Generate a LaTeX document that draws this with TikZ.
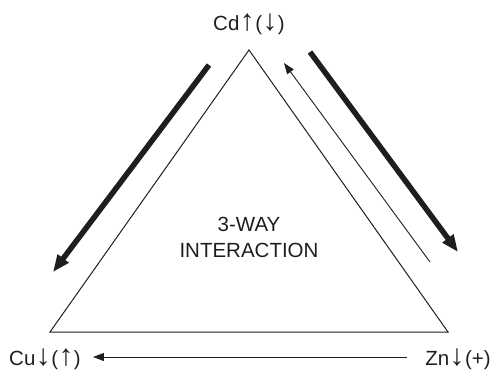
\documentclass[tikz,border=0pt]{standalone}
\usepackage{fontspec}
\setmainfont{Liberation Sans}
\newcommand{\auf}{\kern0.5pt\scalebox{1.45}{↑}\kern0.5pt}
\newcommand{\ab}{\kern0.5pt\scalebox{1.45}{↓}\kern0.5pt}
\usetikzlibrary{arrows.meta}
\definecolor{strich}{RGB}{30,30,30}

\begin{document}
\begin{tikzpicture}[strich, x=1pt, y=-1pt,
	every node/.style={font=\fontsize{20.5}{26}\selectfont, inner sep=0pt},
	dick/.style={line width=5.5pt, -{Triangle[length=17pt, width=13pt]}},
	duenn/.style={line width=0.9pt, -{Triangle[length=11pt, width=8pt]}}]

	\useasboundingbox (0,0) rectangle (495,370);

	% Ecken
	\coordinate (A) at (249,50);
	\coordinate (B) at (50,332);
	\coordinate (C) at (448,332);
	\draw[line width=1pt, line join=miter] (A) -- (B) -- (C) -- cycle;

	\node (Cd) at (249,24) {Cd\auf(\ab)};
	\node (Cu) at (45,359) {Cu\ab(\auf)};
	\node (Zn) at (458,359) {Zn\ab(+)};
	\node[align=center] (mitte) at (249,237) {3-WAY\\INTERACTION};

	% Pfeile
	\coordinate (L1) at (209,65);
	\coordinate (L2) at (53,272);
	\draw[dick] (L1) -- (L2);

	\coordinate (R1) at (310,52);
	\coordinate (R2) at (458,252);
	\draw[dick] (R1) -- (R2);

	\coordinate (T1) at (430,262);
	\coordinate (T2) at (284,63);
	\draw[duenn] (T1) -- (T2);

	\coordinate (Z1) at ([xshift=-18pt, yshift=2pt]Zn.west);
	\draw[duenn] (Z1) -- ([xshift=12pt, yshift=2pt]Cu.east);

\end{tikzpicture}
\end{document}
